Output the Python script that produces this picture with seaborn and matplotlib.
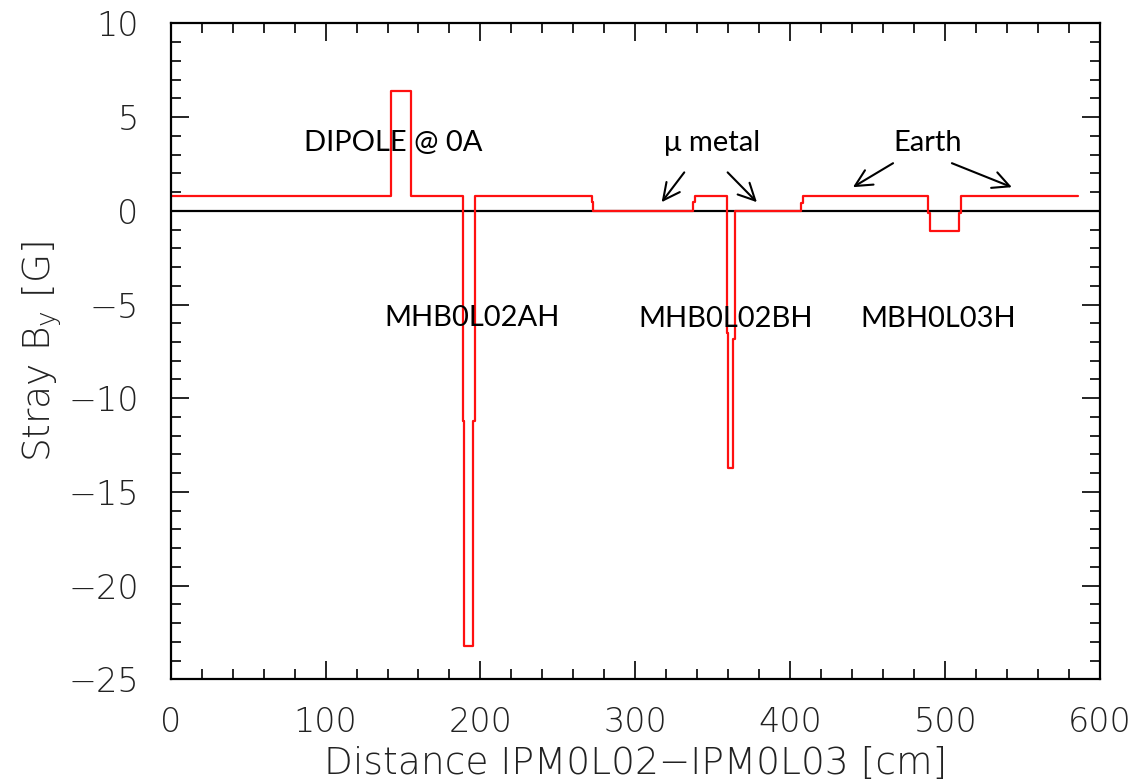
import matplotlib
matplotlib.use('Agg')
import matplotlib.pyplot as plt
import seaborn as sns
import pandas as pd
from matplotlib.ticker import MultipleLocator

# step edges [cm] and field values [G] (steps-post)
edges = [0, 142, 155, 188.5, 189.3, 195.3, 196.4, 271.8, 272.8, 337.4, 338.7,
         358.9, 359.8, 363.2, 364.5, 406.7, 408, 489.1, 490.2, 509.1, 510.2, 585.5]
field = [0.8, 6.4, 0.8, -11.2, -23.2, -11.2, 0.8, 0.48, 0, 0.48, 0.8,
         -6.5, -13.7, -6.86, 0, 0.43, 0.8, -0.1, -1.07, -0.1, 0.8, 0.8]

y_ticks = [10, 5, 0, -5, -10, -15, -20, -25]
x_ticks = [0, 100, 200, 300, 400, 500, 600]

# magnet labels (text, x, y)
magnets = [('DIPOLE @ 0A', 143.5, 3.6), ('MHB0L02AH', 194.5, -5.7),
           ('MHB0L02BH', 358.4, -5.8), ('MBH0L03H', 495.4, -5.8)]
# arrow labels: text, text pos, arrow starts, arrow ends
mu_text = ('\u03bc metal', 349.4, 3.6)
mu_arrows = [((331.6, 2.05), (317, 0.46)), ((359.6, 2.05), (378.5, 0.46))]
earth_text = ('Earth', 489, 3.6)
earth_arrows = [((466.4, 2.54), (440.5, 1.26)), ((504.4, 2.54), (543.1, 1.26))]

sns.set_style('ticks')
plt.rcParams['font.family'] = ['DejaVu Sans', 'DejaVu Sans Mono']
plt.rcParams['mathtext.fontset'] = 'custom'
plt.rcParams['mathtext.rm'] = 'DejaVu Sans:light'

fig = plt.figure(figsize=(11.4, 7.8), dpi=100)
ax = fig.add_axes([0.1497, 0.1291, 0.9649 - 0.1497, 0.970 - 0.1291])

df = pd.DataFrame({'x': edges, 'B': field})
ax.axhline(0, color='black', lw=1.6, zorder=1)
sns.lineplot(data=df, x='x', y='B', ax=ax, color='#ff1010', lw=1.6,
             drawstyle='steps-post', estimator=None, sort=False, zorder=2)

ax.set_xlim(0, 600)
ax.set_ylim(-25, 10)
ax.xaxis.set_minor_locator(MultipleLocator(20))
ax.yaxis.set_minor_locator(MultipleLocator(1))
ax.set_xticks(x_ticks)
ax.set_yticks(y_ticks)
ax.set_xticklabels([str(v) for v in x_ticks])
ax.set_yticklabels([str(v).replace('-', '\u2212') for v in y_ticks])
ax.tick_params(which='both', direction='in', top=True, right=True, width=1.2, color='black')
ax.tick_params(which='major', length=13)
ax.tick_params(which='minor', length=7)
ax.tick_params(axis='x', which='major', pad=19)
ax.tick_params(axis='y', which='major', pad=23)
for lab in ax.get_xticklabels() + ax.get_yticklabels():
    lab.set_fontweight('light')
    lab.set_fontsize(24)
    lab.set_color('#222222')
for s in ax.spines.values():
    s.set_linewidth(1.6)
    s.set_color('black')

lfont = dict(fontsize=27, fontweight='light', color='#222222')
ax.set_xlabel('Distance IPM0L02\u2212IPM0L03 [cm]', labelpad=5, **lfont)
ax.set_ylabel(r'Stray B$_\mathregular{y}$ [G]', labelpad=3, **lfont)

tfont = dict(family=['Lato', 'DejaVu Sans'], fontsize=21, ha='center', va='center', color='black')
for name, x, y in magnets:
    ax.text(x, y, name, **tfont)
for (name, x, y), arrows in [(mu_text, mu_arrows), (earth_text, earth_arrows)]:
    ax.text(x, y, name, **tfont)
    for start, end in arrows:
        ax.annotate('', xy=end, xytext=start,
                    arrowprops=dict(arrowstyle='->', lw=1.5, color='black', mutation_scale=30,
                                    shrinkA=0, shrinkB=0))

fig.savefig('out.png', dpi=100)
